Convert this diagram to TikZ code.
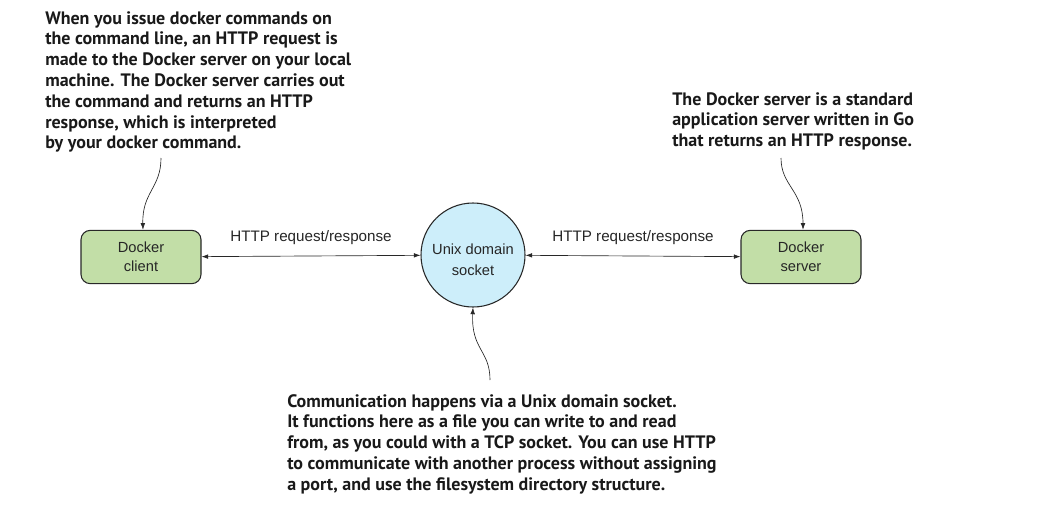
\documentclass[tikz,border=0pt]{standalone}
\usepackage{fontspec}
\setmainfont{Liberation Sans}
\newfontfamily\notefont{PT Sans}
\usetikzlibrary{arrows.meta}
\definecolor{boxgreen}{RGB}{194,222,167}
\definecolor{sockblue}{RGB}{205,238,250}
\definecolor{edge}{RGB}{40,40,40}
\begin{document}
\begin{tikzpicture}[x=0.75pt,y=-0.75pt,
  comp/.style={draw=edge,line width=0.8pt,fill=boxgreen,rounded corners=7pt,minimum width=90pt,minimum height=40pt,align=center,font=\fontsize{11}{14.5}\selectfont,text=black!85},
  sock/.style={circle,draw=edge,line width=0.8pt,fill=sockblue,minimum size=78pt,inner sep=0pt},
  socklbl/.style={align=center,font=\fontsize{11}{15.5}\selectfont,text=black!85,inner sep=0pt},
  note/.style={align=left,inner sep=0pt,anchor=north west,font=\notefont\bfseries\fontsize{13.5}{15.6}\selectfont,text=black!90},
  link/.style={{Latex[length=5pt,width=3.5pt]}-{Latex[length=5pt,width=3.5pt]},line width=0.5pt,draw=edge},
  pointer/.style={-{Latex[length=5pt,width=3.5pt]},line width=0.5pt,draw=edge},
  lbl/.style={font=\fontsize{11.4}{14}\selectfont,text=black!85,inner sep=0pt}]
\useasboundingbox (0,0) rectangle (1060,511);
\node[comp] (client) at (141,257) {Docker\\client};
\node[comp] (server) at (801,257) {Docker\\server};
\node[sock] (sock) at (473,255) {};
\node[socklbl] (socktext) at (473,260) {Unix domain\\socket};
\draw[link] (client) -- node[lbl,above=8pt] (l1) {HTTP request/response} (sock);
\draw[link] (sock) -- node[lbl,above=8pt] (l2) {HTTP request/response} (server);
\node[note] (n1) at (45,11) {When you issue docker commands on\\the command line, an HTTP request is\\made to the Docker server on your local\\machine. The Docker server carries out\\the command and returns an HTTP\\response, which is interpreted\\by your docker command.};
\node[note] (n2) at (672,92) {The Docker server is a standard\\application server written in Go\\that returns an HTTP response.};
\node[note] (n3) at (287,394) {Communication happens via a Unix domain socket.\\It functions here as a file you can write to and read\\from, as you could with a TCP socket. You can use HTTP\\to communicate with another process without assigning\\a port, and use the filesystem directory structure.};
\coordinate (p1) at (161,158);
\coordinate (p2) at (781,158);
\coordinate (p3) at (490,380);
\draw[pointer] (p1) .. controls (161,188) and (142,192) .. (client.north -| 143,0);
\draw[pointer] (p2) .. controls (781,186) and (803,190) .. (server.north -| 803,0);
\draw[pointer] (p3) .. controls (490,350) and (471,350) .. (sock.south);
\end{tikzpicture}
\end{document}
